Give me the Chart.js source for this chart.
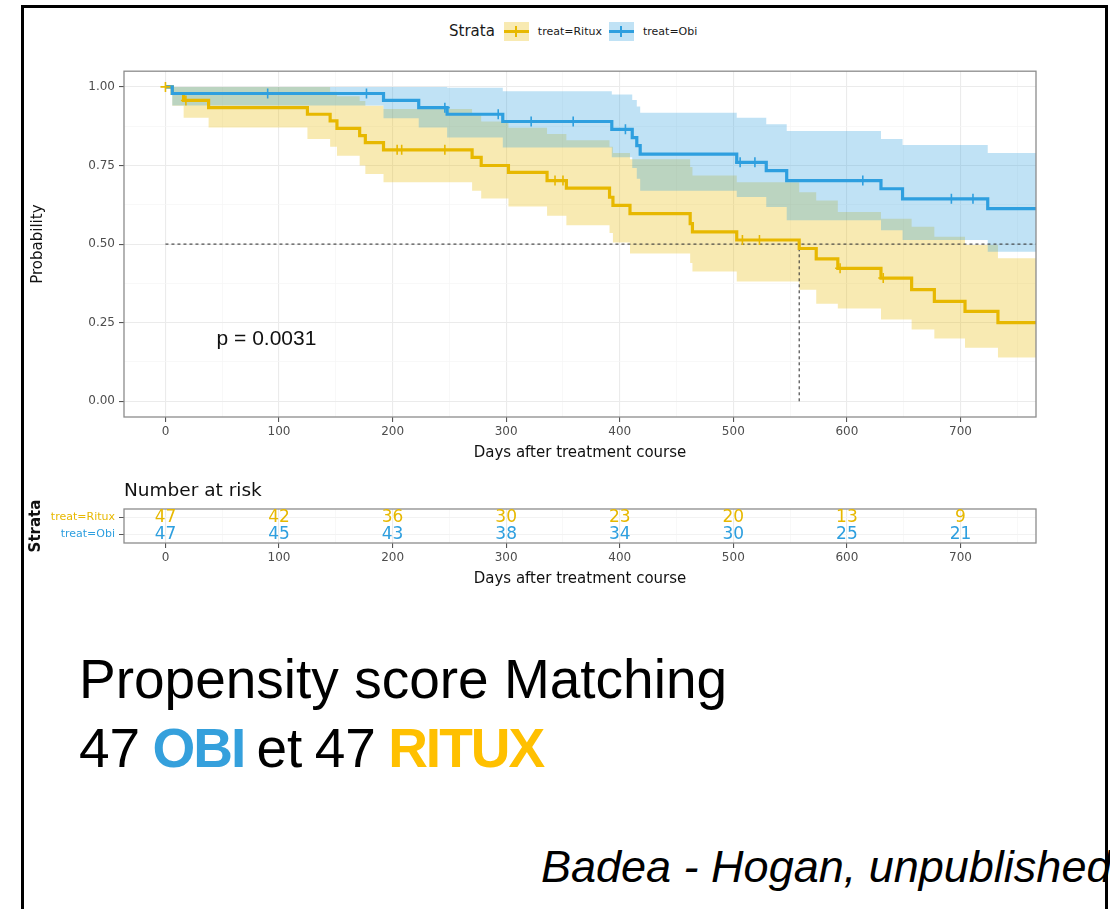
<!DOCTYPE html>
<html>
<head>
<meta charset="utf-8">
<script src="https://cdn.jsdelivr.net/npm/chart.js@4.4.1/dist/chart.umd.min.js"></script>
<style>
  body { margin: 0; background: #fff; }
  #slide { position: relative; width: 1110px; height: 909px; overflow: hidden; background: #fff; }
  #frame { position: absolute; left: 21px; top: 5px; width: 1081px; height: 930px; border: 3px solid #000; border-bottom: none; }
  canvas { position: absolute; left: 0; display: block; }
  #legend { position: absolute; left: 449px; top: 21px; height: 20px; display: flex; align-items: center; font-family: 'DejaVu Sans'; color: #1a1a1a; }
  #legend .lt { font-size: 15px; margin-right: 9px; }
  #legend .ll { font-size: 11px; margin-right: 7px; }
  .key { position: relative; display: inline-block; width: 25px; height: 19px; margin-right: 9px; }
  .key i { position: absolute; left: 0; right: 0; top: 8px; height: 3px; }
  .key b { position: absolute; left: 11.5px; top: 4px; width: 2px; height: 11px; }
  #riskTitle { position: absolute; left: 124px; top: 479px; font: 18.5px 'DejaVu Sans'; color: #111; }
  .big { position: absolute; left: 79px; font-family: 'Liberation Sans'; font-size: 55px; line-height: 55px; color: #000; white-space: nowrap; }
  .big b { letter-spacing: -2px; }
  #cite { position: absolute; left: 541px; top: 844px; font: italic 45px/45px 'Liberation Sans'; color: #000; white-space: nowrap; }
</style>
</head>
<body>
<div id="slide">
  <canvas id="km" width="1110" height="410" style="top:60px"></canvas>
  <canvas id="risk" width="1110" height="120" style="top:480px"></canvas>
  <div id="legend">
    <span class="lt">Strata</span>
    <span class="key" style="background:rgba(231,184,0,0.3)"><i style="background:#E7B800"></i><b style="background:#E7B800"></b></span>
    <span class="ll">treat=Ritux</span>
    <span class="key" style="background:rgba(46,159,223,0.3)"><i style="background:#2E9FDF"></i><b style="background:#2E9FDF"></b></span>
    <span class="ll">treat=Obi</span>
  </div>
  <div id="riskTitle">Number at risk</div>
  <div class="big" style="top:652px">Propensity score Matching</div>
  <div class="big" style="top:721px; word-spacing:-3px">47 <b style="color:#35A0DC">OBI</b> et 47 <b style="color:#FFC000">RITUX</b></div>
  <div id="cite">Badea - Hogan, unpublished</div>
  <div id="frame"></div>
</div>
<script>
// Kaplan-Meier curves
const obiTimes = [0, 6, 192, 223, 248, 297, 393, 411, 415, 418, 503, 529, 547, 630, 649, 724, 780];
const obiSurv  = [1, 0.979, 0.957, 0.934, 0.913, 0.890, 0.865, 0.839, 0.813, 0.786, 0.760, 0.734, 0.702, 0.676, 0.644, 0.613, 0.613];
const obiUpper = [1, 1.000, 1.000, 1.000, 0.997, 0.986, 0.976, 0.958, 0.938, 0.918, 0.902, 0.881, 0.860, 0.834, 0.815, 0.790, 0.790];
const obiLower = [1, 0.941, 0.900, 0.871, 0.839, 0.807, 0.776, 0.742, 0.708, 0.670, 0.650, 0.618, 0.576, 0.544, 0.513, 0.476, 0.476];
const obiCensorTimes = [90, 177, 246, 293, 322, 359, 405, 506, 519, 614, 692, 711];
const obiCensorSurv  = [0.979, 0.979, 0.934, 0.913, 0.890, 0.890, 0.865, 0.760, 0.760, 0.702, 0.644, 0.644];

const rituxTimes = [0, 6, 16, 38, 125, 145, 151, 171, 176, 192, 270, 278, 302, 336, 353, 391, 394, 409, 462, 464, 503, 558, 573, 592, 630, 657, 677, 704, 733, 780];
const rituxSurv  = [1, 0.979, 0.957, 0.934, 0.913, 0.892, 0.868, 0.845, 0.823, 0.800, 0.776, 0.750, 0.728, 0.702, 0.678, 0.649, 0.623, 0.597, 0.565, 0.539, 0.513, 0.486, 0.453, 0.423, 0.392, 0.355, 0.318, 0.286, 0.250, 0.250];
const rituxUpper = [1, 1, 1, 1, 1, 0.985, 0.970, 0.955, 0.940, 0.930, 0.910, 0.890, 0.870, 0.850, 0.830, 0.810, 0.790, 0.770, 0.745, 0.718, 0.697, 0.665, 0.639, 0.602, 0.581, 0.555, 0.523, 0.497, 0.455, 0.455];
const rituxLower = [1, 0.940, 0.902, 0.871, 0.834, 0.810, 0.781, 0.750, 0.723, 0.697, 0.670, 0.645, 0.620, 0.590, 0.560, 0.535, 0.505, 0.470, 0.440, 0.413, 0.381, 0.355, 0.310, 0.295, 0.260, 0.228, 0.200, 0.170, 0.139, 0.139];
const rituxCensorTimes = [0, 18, 204, 208, 246, 343, 350, 508, 523, 594, 632];
const rituxCensorSurv  = [1, 0.957, 0.800, 0.800, 0.800, 0.702, 0.702, 0.513, 0.513, 0.423, 0.392];

const medianDay = 558;
const medianLineDays = [0, 780];
const pval = { text: 'p = 0.0031', x: 45, y: 0.197 };

// number at risk table
const riskGroups = ['treat=Ritux', 'treat=Obi'];
const riskTimes = [0, 100, 200, 300, 400, 500, 600, 700];
const riskRitux = [47, 42, 36, 30, 23, 20, 13, 9];
const riskObi   = [47, 45, 43, 38, 34, 30, 25, 21];

// axes
const xMin = -36.5, xMax = 766.5;
const xMajor = [0, 100, 200, 300, 400, 500, 600, 700];
const xMinor = [50, 150, 250, 350, 450, 550, 650, 750];
const yMajor = [0, 0.25, 0.5, 0.75, 1];
const yMinor = [0.125, 0.375, 0.625, 0.875];

const RITUX = '#E7B800', OBI = '#2E9FDF';
const RITUX_BAND = 'rgba(231,184,0,0.3)', OBI_BAND = 'rgba(46,159,223,0.3)';
const FONT = 'DejaVu Sans';

const pts = (xs, ys) => xs.map((x, i) => ({ x: x, y: ys[i] }));

function band(data, color, fill) {
    return { data: data, stepped: true, fill: fill, backgroundColor: color,
             borderColor: 'rgba(0,0,0,0)', borderWidth: 0, pointRadius: 0 };
}
function curve(data, color) {
    return { data: data, stepped: true, fill: false, borderColor: color, borderWidth: 3.2, pointRadius: 0 };
}
function censor(data, color) {
    return { data: data, showLine: false, pointStyle: 'cross', pointRadius: 5,
             pointBorderWidth: 1.6, borderColor: color, backgroundColor: color };
}
function dashed(data) {
    return { data: data, fill: false, borderColor: '#3a3a3a', borderWidth: 1.1, borderDash: [3, 3], pointRadius: 0 };
}

const isMajorX = v => xMajor.includes(v);
const isMajorY = v => yMajor.includes(v);

function xAxis(titlePad) {
    return {
        type: 'linear', min: xMin, max: xMax,
        afterBuildTicks: s => { s.ticks = xMajor.concat(xMinor).sort((a, b) => a - b).map(v => ({ value: v })); },
        afterFit: s => { s.height = titlePad.h; },
        ticks: { autoSkip: false, maxRotation: 0, padding: 3, color: '#4d4d4d',
                 font: { family: FONT, size: 12 },
                 callback: v => isMajorX(v) ? String(v) : '' },
        grid: { color: c => (c.tick && isMajorX(c.tick.value)) ? '#ebebeb' : '#f5f5f5',
                lineWidth: c => (c.tick && isMajorX(c.tick.value)) ? 1.1 : 0.7,
                tickColor: c => (c.tick && isMajorX(c.tick.value)) ? '#555' : 'rgba(0,0,0,0)',
                tickLength: 5 },
        border: { display: false },
        title: { display: true, text: 'Days after treatment course', color: '#111',
                 font: { family: FONT, size: 15 }, padding: { top: 0, bottom: titlePad.b } }
    };
}

const panelPlugin = {
    id: 'panel',
    afterDatasetsDraw(chart, args, opts) {
        const { ctx, chartArea: a, scales } = chart;
        ctx.save();
        if (opts.pval) {
            ctx.font = "21px 'Liberation Sans'";
            ctx.fillStyle = '#111';
            ctx.textAlign = 'left';
            ctx.textBaseline = 'middle';
            ctx.fillText(opts.pval.text, scales.x.getPixelForValue(opts.pval.x), scales.y.getPixelForValue(opts.pval.y));
        }
        ctx.strokeStyle = '#8c8c8c';
        ctx.lineWidth = 1.3;
        ctx.strokeRect(a.left, a.top, a.right - a.left, a.bottom - a.top);
        ctx.restore();
    }
};

new Chart(document.getElementById('km'), {
    type: 'line',
    data: {
        datasets: [
            censor(pts(obiCensorTimes, obiCensorSurv), OBI),
            censor(pts(rituxCensorTimes, rituxCensorSurv), RITUX),
            curve(pts(obiTimes, obiSurv), OBI),
            curve(pts(rituxTimes, rituxSurv), RITUX),
            dashed(pts(medianLineDays, [0.5, 0.5])),
            dashed(pts([medianDay, medianDay], [0, 0.5])),
            band(pts(obiTimes, obiUpper), OBI_BAND, '+1'),
            band(pts(obiTimes, obiLower), OBI_BAND, false),
            band(pts(rituxTimes, rituxUpper), RITUX_BAND, '+1'),
            band(pts(rituxTimes, rituxLower), RITUX_BAND, false)
        ]
    },
    plugins: [panelPlugin],
    options: {
        responsive: false,
        animation: false,
        events: [],
        layout: { padding: { left: 0, right: 74, top: 10, bottom: 0 } },
        plugins: {
            legend: { display: false },
            tooltip: { enabled: false },
            filler: { drawTime: 'beforeDatasetsDraw' },
            panel: { pval: pval }
        },
        scales: {
            x: xAxis({ h: 53, b: 8 }),
            y: {
                type: 'linear', min: -0.05, max: 1.05,
                afterBuildTicks: s => { s.ticks = yMajor.concat(yMinor).sort((a, b) => a - b).map(v => ({ value: v })); },
                afterFit: s => { s.width = 124; },
                ticks: { autoSkip: false, padding: 4, color: '#4d4d4d',
                         font: { family: FONT, size: 12 },
                         callback: v => isMajorY(v) ? v.toFixed(2) : '' },
                grid: { color: c => (c.tick && isMajorY(c.tick.value)) ? '#ebebeb' : '#f5f5f5',
                        lineWidth: c => (c.tick && isMajorY(c.tick.value)) ? 1.1 : 0.7,
                        tickColor: c => (c.tick && isMajorY(c.tick.value)) ? '#555' : 'rgba(0,0,0,0)',
                        tickLength: 5 },
                border: { display: false },
                title: { display: true, text: 'Probability', color: '#111',
                         font: { family: FONT, size: 15 }, padding: { top: 29, bottom: 0 } }
            }
        }
    }
});

// numbers at risk are drawn at the points the scales give
const riskPlugin = {
    id: 'riskNumbers',
    afterDatasetsDraw(chart) {
        const ctx = chart.ctx;
        ctx.save();
        ctx.font = "17px 'DejaVu Sans'";
        ctx.textAlign = 'center';
        ctx.textBaseline = 'middle';
        chart.data.datasets.forEach((ds, i) => {
            ctx.fillStyle = ds.textColor;
            chart.getDatasetMeta(i).data.forEach((el, j) => ctx.fillText(String(ds.counts[j]), el.x, el.y));
        });
        ctx.restore();
    }
};

new Chart(document.getElementById('risk'), {
    type: 'line',
    data: {
        datasets: [
            { data: riskTimes.map(t => ({ x: t, y: riskGroups[0] })), counts: riskRitux, textColor: RITUX,
              showLine: false, pointRadius: 0 },
            { data: riskTimes.map(t => ({ x: t, y: riskGroups[1] })), counts: riskObi, textColor: OBI,
              showLine: false, pointRadius: 0 }
        ]
    },
    plugins: [panelPlugin, riskPlugin],
    options: {
        responsive: false,
        animation: false,
        events: [],
        layout: { padding: { left: 0, right: 74, top: 29, bottom: 0 } },
        plugins: { legend: { display: false }, tooltip: { enabled: false }, panel: {} },
        scales: {
            x: xAxis({ h: 57, b: 12 }),
            y: {
                type: 'category', labels: riskGroups, offset: true,
                afterFit: s => { s.width = 124; },
                ticks: { padding: 4, font: { family: FONT, size: 11 },
                         color: c => c.index === 0 ? RITUX : OBI },
                grid: { color: '#f2f2f2', tickColor: '#555', tickLength: 5 },
                border: { display: false },
                title: { display: true, text: 'Strata', color: '#111',
                         font: { family: FONT, size: 15, weight: 'bold' }, padding: { top: 27, bottom: 0 } }
            }
        }
    }
});
</script>
</body>
</html>
